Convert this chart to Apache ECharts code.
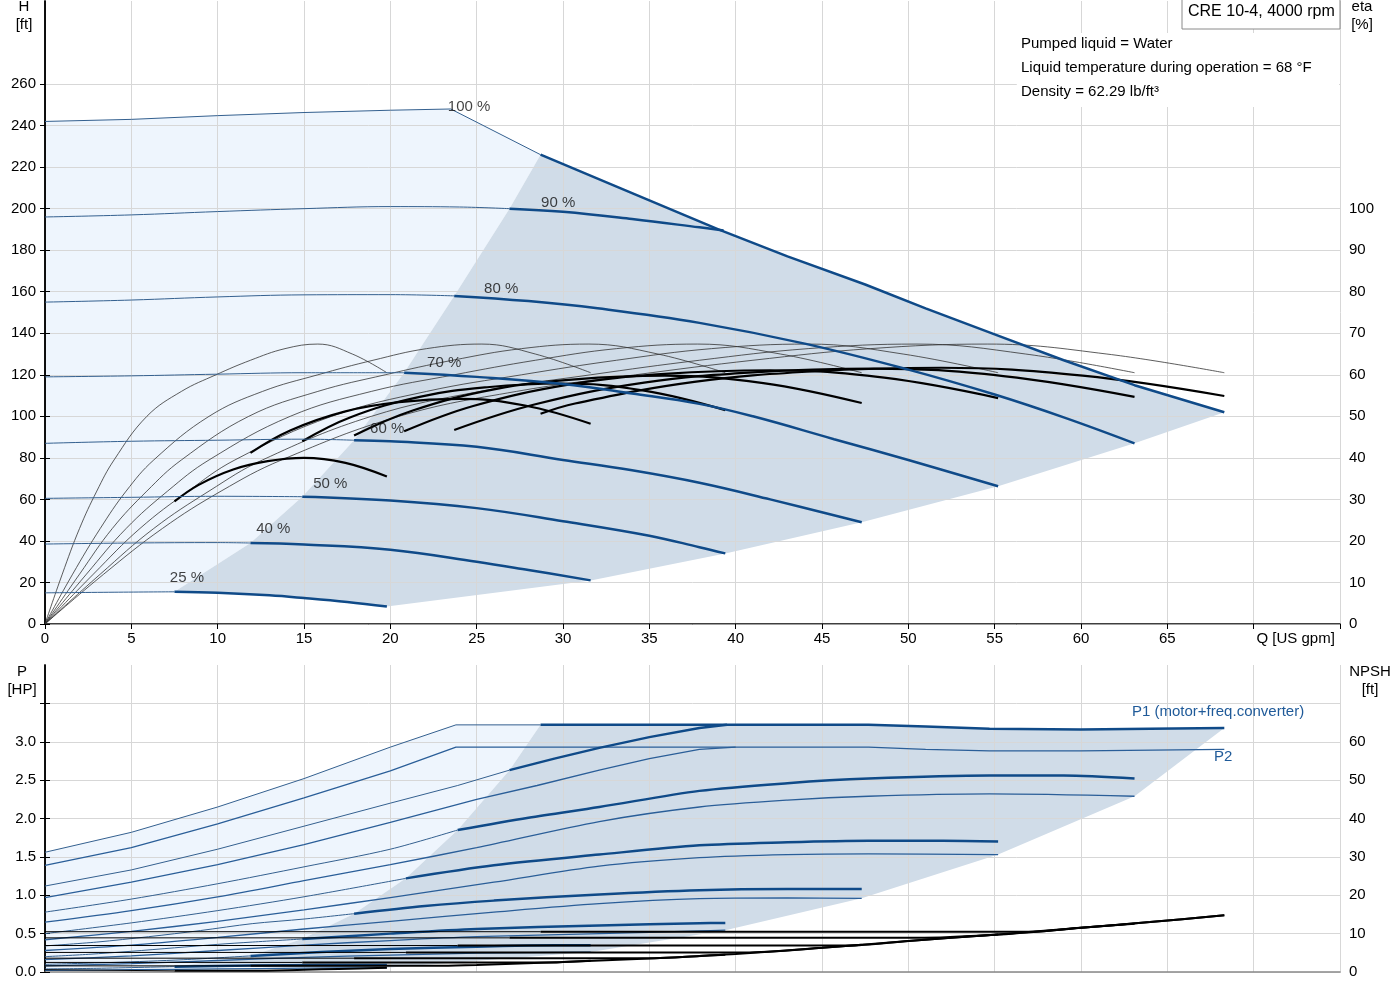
<!DOCTYPE html>
<html>
<head>
<meta charset="utf-8">
<title>CRE 10-4</title>
<script src="https://cdn.jsdelivr.net/npm/echarts/dist/echarts.min.js"></script>
<style>
  html, body { margin: 0; padding: 0; background: #fff; }
  #main { width: 1400px; height: 1000px; }
</style>
</head>
<body>
<div id="main"></div>
<script>
// ---- H [ft] vs Q [US gpm], one curve per speed (100,90,80,70,60,50,40,25 %)
var speedNames = ['100 %', '90 %', '80 %', '70 %', '60 %', '50 %', '40 %', '25 %'];
var hCurve100 = [[0,242],[5,243],[10,244.8],[15,246.3],[20,247.4],[23.5,248],[28.7,226],[33,211],[39,190],[43,177],[47.5,163.5],[51,152],[55,139.5],[59,127],[63.1,115],[68.3,102]];
var hCurve90 = [[0,196],[5,197],[10,198.6],[15,200],[20,201],[24,200.8],[26.9,200],[30,198.5],[34,195],[37.9,191],[39.3,189.5]];
var hCurve80 = [[0,155],[5,156],[10,157.5],[15,158.5],[20,158.6],[23.7,158],[28,155.5],[32,152],[37.9,145],[44,135],[50,122.5],[55,110.5],[59,99.5],[63.1,87]];
var hCurve70 = [[0,119],[5,119.5],[10,120.3],[15,121],[20.8,121],[25,119],[30,115.6],[34,111],[37.9,106],[41,100],[45.7,89],[50,79],[55.2,66.3]];
var hCurve60 = [[0,87],[5,88],[10,88.5],[15,89],[17.9,88.5],[20,88],[25,85.3],[30,79],[34,74],[37.9,68],[42,60],[47.3,49]];
var hCurve50 = [[0,60.5],[5,61],[10,61.5],[14.9,61.3],[20,59.5],[25,55.8],[30,49.5],[35,42.5],[37.9,37],[39.4,34]];
var hCurve40 = [[0,38.5],[5,39],[10,39.2],[11.9,39],[15,38.3],[20,35.8],[25,30],[28,26],[31.6,21]];
var hCurve25 = [[0,15],[4,15.3],[7.5,15.5],[10,15],[13,13.8],[15,12.5],[17.5,10.6],[19.8,8.4]];
// flow where each curve enters the operating (dark) area
var hSplitQ = [28.7, 26.9, 23.7, 20.8, 17.9, 14.9, 11.9, 7.5];
// label anchors for the speed texts [Q, H]
var speedLabelQ = [23.3, 28.7, 25.4, 22.1, 18.8, 15.5, 12.2, 7.2];
var speedLabelH = [249, 203, 161.6, 125.7, 94, 67.6, 45.6, 22];

// ---- eta [%]: pump (thin) and total (thick), speeds 100,80,70,60,50,40,25
var etaPump100 = [[0,0],[3.4,12],[6.8,23],[10.2,32],[13.7,39.5],[20.5,50],[27.3,56],[34.2,60],[41,63.5],[47.8,66.3],[54.6,67.4],[61.5,65],[68.3,60.5]];
var etaPump80 = [[0,0],[3.2,12],[6.3,23],[9.5,32],[12.6,39.5],[18.9,50],[25.2,56],[31.6,60],[37.9,63.5],[44.2,66.3],[50.5,67.4],[56.8,65],[63.1,60.5]];
var etaPump70 = [[0,0],[2.8,12],[5.5,23],[8.3,32],[11,39.5],[16.6,50],[22.1,56],[27.6,60],[33.1,63.5],[38.6,66.3],[44.2,67.4],[49.7,65],[55.2,60.5]];
var etaPump60 = [[0,0],[2.4,12],[4.7,23],[7.1,32],[9.5,39.5],[14.2,50],[18.9,56],[23.7,60],[28.4,63.5],[33.1,66.3],[37.8,67.4],[42.6,65],[47.3,60.5]];
var etaPump50 = [[0,0],[2,12],[3.9,23],[5.9,32],[7.9,39.5],[11.8,50],[15.8,56],[19.7,60],[23.6,63.5],[27.6,66.3],[31.5,67.4],[35.5,65],[39.4,60.5]];
var etaPump40 = [[0,0],[1.6,12],[3.2,23],[4.7,32],[6.3,39.5],[9.5,50],[12.6,56],[15.8,60],[19,63.5],[22.1,66.3],[25.3,67.4],[28.4,65],[31.6,60.5]];
var etaPump25 = [[0,0],[1,12],[2,23],[3,32],[4,39.5],[5.9,50],[7.9,56],[9.9,60],[11.9,63.5],[13.9,66.3],[15.8,67.4],[17.8,65],[19.8,60.5]];
var etaTotal100 = [[28.7,50.6],[30.7,53.1],[37.6,58.3],[44.4,60.8],[51.9,61.7],[60.1,59.8],[68.3,54.9]];
var etaTotal80 = [[23.7,46.7],[28.4,52.9],[34.7,58.1],[41,60.6],[48,61.5],[55.5,59.7],[63.1,54.7]];
var etaTotal70 = [[20.8,46.4],[24.8,52.5],[30.4,57.7],[35.9,60.2],[42,61.1],[48.6,59.3],[55.2,54.4]];
var etaTotal60 = [[17.9,45.4],[21.3,51.4],[26,56.5],[30.7,58.9],[35.9,59.8],[41.6,58],[47.3,53.2]];
var etaTotal50 = [[14.9,44],[17.7,49.8],[21.7,54.7],[25.6,57],[29.9,57.9],[34.7,56.2],[39.4,51.5]];
var etaTotal40 = [[11.9,41.2],[14.2,46.6],[17.4,51.2],[20.5,53.4],[24,54.2],[27.8,52.6],[31.6,48.2]];
var etaTotal25 = [[7.5,29.5],[8.9,33.5],[10.9,37.2],[12.9,39.2],[15,40],[17.4,38.8],[19.8,35.5]];

// ---- P [HP]: P1 (motor+freq.converter) and P2, speeds 100..25
var p1Curve100 = [[0,1.56],[5,1.82],[10,2.15],[15,2.52],[20,2.93],[23.8,3.22],[28.7,3.22],[35,3.22],[40,3.22],[47.7,3.22],[51,3.2],[54.7,3.17],[60,3.16],[64,3.17],[68.3,3.18]];
var p1Curve90 = [[0,1.12],[5,1.33],[10,1.6],[15,1.9],[20,2.2],[23.9,2.43],[26.9,2.63],[29.5,2.78],[32.1,2.92],[35,3.06],[37.9,3.18],[39.5,3.22]];
var p1Curve80 = [[0,0.78],[5,0.95],[10,1.15],[15,1.37],[20,1.6],[23.9,1.85],[28,2.01],[32.1,2.15],[37.9,2.36],[43,2.46],[47.7,2.52],[54.7,2.56],[59,2.56],[63.1,2.52]];
var p1Curve70 = [[0,0.5],[5,0.64],[10,0.8],[15,0.98],[20.9,1.22],[26,1.39],[32.1,1.53],[37.9,1.65],[43,1.69],[47.7,1.71],[52,1.71],[55.2,1.7]];
var p1Curve60 = [[0,0.34],[3,0.39],[6,0.46],[9,0.54],[12,0.63],[15,0.69],[17.9,0.76],[22,0.86],[26,0.93],[32.1,1.01],[37.9,1.065],[43,1.08],[47.3,1.08]];
var p1Curve50 = [[0,0.2],[2.5,0.23],[5,0.27],[7.5,0.315],[10,0.36],[12,0.39],[14.9,0.43],[20,0.5],[25,0.56],[32.1,0.605],[37.9,0.635],[39.4,0.64]];
var p1Curve40 = [[0,0.1],[4,0.125],[8,0.16],[11.9,0.21],[16,0.26],[20,0.3],[25,0.33],[28,0.345],[31.6,0.35]];
var p1Curve25 = [[0,0.04],[3,0.048],[7.5,0.07],[12,0.085],[16,0.09],[19.8,0.09]];
var p2Curve100 = [[0,1.39],[5,1.62],[10,1.93],[15,2.27],[20,2.62],[23.8,2.93],[40,2.93],[47.7,2.93],[51,2.9],[54.7,2.88],[60,2.88],[68.3,2.9]];
var p2Curve90 = [[0,0.97],[5,1.17],[10,1.4],[15,1.66],[20,1.95],[25,2.25],[28.5,2.43],[32.1,2.63],[35,2.78],[37.9,2.9],[40,2.93]];
var p2Curve80 = [[0,0.65],[5,0.8],[10,0.98],[15,1.19],[20,1.4],[25,1.62],[32.1,1.96],[37.9,2.15],[43,2.24],[47.7,2.29],[54.7,2.32],[63.1,2.29]];
var p2Curve70 = [[0,0.42],[5,0.53],[10,0.66],[15,0.81],[20,0.97],[26,1.17],[32.1,1.38],[37.9,1.49],[43,1.53],[47.7,1.54],[55.2,1.53]];
var p2Curve60 = [[0,0.28],[5,0.35],[10,0.45],[15,0.56],[20,0.66],[26,0.78],[32.1,0.89],[37.9,0.955],[43,0.965],[47.3,0.96]];
var p2Curve50 = [[0,0.16],[5,0.21],[10,0.28],[15,0.35],[20,0.41],[25,0.46],[32.1,0.5],[37.9,0.535],[39.4,0.545]];
var p2Curve40 = [[0,0.08],[5,0.11],[10,0.15],[15,0.19],[20,0.22],[25,0.245],[31.6,0.26]];
var p2Curve25 = [[0,0.02],[5,0.03],[10,0.04],[15,0.05],[19.8,0.055]];
var pSplitQ = [28.7, 26.9, 23.9, 20.9, 17.9, 14.9, 11.9, 7.5];

// ---- NPSH [ft], speeds 100..25
var npsh100 = [[0,10.5],[28.7,10.5],[40,10.5],[50,10.5],[57,10.5],[60,11.5],[64,13],[68.3,14.8]];
var npsh90 = [[0,8.9],[26.9,8.9],[40,8.9],[50.5,8.9],[55,9.7],[60,11.5],[64,13],[68.3,14.8]];
var npsh80 = [[0,6.9],[23.9,6.9],[35,6.9],[46.5,6.9],[50,8.1],[55,9.7],[60,11.5],[63.1,12.6]];
var npsh70 = [[0,5.1],[20.9,5.1],[30,5.1],[40.5,5.1],[45,6.3],[50,8.1],[55.2,9.8]];
var npsh60 = [[0,3.6],[17.9,3.6],[30,3.6],[35.3,3.6],[37.9,4.2],[40,4.7],[45,6.3],[47.3,7.1]];
var npsh50 = [[0,2.5],[14.9,2.5],[29.5,2.5],[30,2.6],[35,3.5],[39.4,4.5]];
var npsh40 = [[0,1.6],[11.9,1.6],[23,1.6],[25,1.8],[30,2.6],[31.6,2.9]];
var npsh25 = [[0,0.6],[7.5,0.3],[12,0.3],[15,0.6],[17,0.8],[19.8,1.1]];

// tick values shown on each vertical axis
var hTicks = [0,20,40,60,80,100,120,140,160,180,200,220,240,260];
var etaTicks = [0,10,20,30,40,50,60,70,80,90,100];
var pTicks = [0,0.5,1,1.5,2,2.5,3,3.5];
var npshTicks = [0,10,20,30,40,50,60,70];

var hCurves = [hCurve100, hCurve90, hCurve80, hCurve70, hCurve60, hCurve50, hCurve40, hCurve25];
var etaPumpCurves = [etaPump100, etaPump80, etaPump70, etaPump60, etaPump50, etaPump40, etaPump25];
var etaTotalCurves = [etaTotal100, etaTotal80, etaTotal70, etaTotal60, etaTotal50, etaTotal40, etaTotal25];
var p1Curves = [p1Curve100, p1Curve90, p1Curve80, p1Curve70, p1Curve60, p1Curve50, p1Curve40, p1Curve25];
var p2Curves = [p2Curve100, p2Curve90, p2Curve80, p2Curve70, p2Curve60, p2Curve50, p2Curve40, p2Curve25];
var npshCurves = [npsh100, npsh90, npsh80, npsh70, npsh60, npsh50, npsh40, npsh25];

var FONT = "'Liberation Sans', Arial, sans-serif";
var thinBlue = '#34608f', thickBlue = '#0f4a88', p2Blue = '#2a5e98';
var gridColor = '#d7d7d7';

function last(c) { return c[c.length - 1]; }
function upTo(c, q) { return c.filter(function (p) { return p[0] <= q; }); }
function from(c, q) { return c.filter(function (p) { return p[0] >= q; }); }
function at(c, q) { return c.filter(function (p) { return p[0] === q; })[0]; }

// operating areas, built from the curves above
var hMinFlow = hCurves.map(function (c, i) { return at(c, hSplitQ[i]); }).reverse();
var hMaxFlow = [hCurve25, hCurve40, hCurve50, hCurve60, hCurve70, hCurve80].map(last);
var hLight = [[0, hCurve25[0][1]]].concat(upTo(hCurve100, hSplitQ[0]), hMinFlow.slice().reverse(),
    hCurve25.filter(function (p) { return p[0] < hSplitQ[7]; }).reverse());
var hDark = hMinFlow.concat(from(hCurve100, hSplitQ[0]).slice(1), hMaxFlow.slice().reverse(),
    hCurve25.filter(function (p) { return p[0] > hSplitQ[7]; }).reverse());

var pMinFlow = p1Curves.map(function (c, i) { return at(c, pSplitQ[i]); }).reverse();
var pMaxFlow = [p2Curve25, p2Curve40, p2Curve50, p2Curve60, p2Curve70, p2Curve80].map(last);
var pLight = [[0, p1Curve25[0][1]]].concat(upTo(p1Curve100, pSplitQ[0]), pMinFlow.slice().reverse(),
    p1Curve25.filter(function (p) { return p[0] < pSplitQ[7]; }).reverse());
var pDark = pMinFlow.concat(from(p1Curve100, pSplitQ[0]).slice(1), pMaxFlow.slice().reverse());

var series = [];

function area(pts, xi, yi, fill) {
    series.push({
        type: 'custom', xAxisIndex: xi, yAxisIndex: yi, z: -1, silent: true,
        data: pts, encode: { x: 0, y: 1 },
        renderItem: function (params, api) {
            if (params.dataIndex > 0) return;
            return {
                type: 'polygon',
                shape: { points: pts.map(function (p) { return api.coord(p); }) },
                style: { fill: fill }
            };
        }
    });
}

function line(data, xi, yi, color, width, smooth) {
    series.push({
        type: 'line', xAxisIndex: xi, yAxisIndex: yi, data: data,
        symbol: 'none', smooth: smooth, silent: true, z: 3,
        lineStyle: { color: color, width: width }
    });
}

area(hLight, 0, 0, '#eef5fd');
area(hDark, 0, 0, '#d0dce8');
area(pLight, 2, 2, '#eef5fd');
area(pDark, 2, 2, '#d0dce8');

// eta curves
etaPumpCurves.forEach(function (c) { line(c, 0, 1, '#333', 0.8, 0.4); });
etaTotalCurves.forEach(function (c) { line(c, 0, 1, '#000', 2.2, 0.4); });

// H curves, thin outside / thick inside the operating area
hCurves.forEach(function (c, i) {
    var sm = i === 0 ? false : 0.4;
    line(upTo(c, hSplitQ[i]), 0, 0, thinBlue, 1, sm);
    line(from(c, hSplitQ[i]), 0, 0, thickBlue, 2.5, sm);
});

// speed labels
series.push({
    type: 'scatter', xAxisIndex: 0, yAxisIndex: 0, silent: true, z: 5,
    symbolSize: 1, itemStyle: { color: 'rgba(0,0,0,0)' },
    data: speedNames.map(function (n, i) { return { value: [speedLabelQ[i], speedLabelH[i]], name: n }; }),
    label: {
        show: true, position: 'right', distance: 0,
        formatter: '{b}', color: '#111', fontSize: 15, fontFamily: FONT
    }
});

// power and NPSH (the two top speeds have a sharp power-limit corner)
p2Curves.forEach(function (c, i) { line(c, 2, 2, p2Blue, 1.3, i < 2 ? false : 0.3); });
p1Curves.forEach(function (c, i) {
    var sm = i < 2 ? false : 0.3;
    line(upTo(c, pSplitQ[i]), 2, 2, thinBlue, 1, sm);
    line(from(c, pSplitQ[i]), 2, 2, thickBlue, 2.5, sm);
});
npshCurves.forEach(function (c, i) {
    line(upTo(c, pSplitQ[i]), 2, 3, '#000', 1, false);
    line(from(c, pSplitQ[i]), 2, 3, '#000', 2, 0.3);
});

function valAxis(grid, pos, max, step, ticks, fmt, split) {
    return {
        type: 'value', gridIndex: grid, position: pos, min: 0, max: max, interval: step,
        axisLine: { show: true, lineStyle: { color: '#000', width: 1.5 } },
        axisTick: { show: true, length: 5, customValues: ticks, lineStyle: { color: '#000' } },
        axisLabel: {
            show: true, margin: 9, color: '#000', fontSize: 15, fontFamily: FONT,
            formatter: fmt
        },
        splitLine: { show: split, lineStyle: { color: gridColor, width: 1 } }
    };
}

var myChart = echarts.init(document.getElementById('main'));
var option = {
    animation: false,
    backgroundColor: '#fff',
    grid: [
        { left: 45, right: 60, top: 1, height: 623 },
        { left: 45, right: 60, top: 665, height: 307 }
    ],
    xAxis: [
        {
            type: 'value', gridIndex: 0, position: 'bottom', min: 0, max: 75, interval: 5,
            axisLine: { show: true, lineStyle: { color: '#000', width: 1.5 } },
            axisTick: { show: true, length: 5, lineStyle: { color: '#000' } },
            axisLabel: {
                show: true, interval: 0, margin: 7, color: '#000', fontSize: 15, fontFamily: FONT,
                formatter: function (v) {
                    if (v <= 65) return String(v);
                    if (v === 70) return '{q|Q [US gpm]}';
                    return '';
                },
                rich: { q: { padding: [0, 0, 0, 84], color: '#000', fontSize: 15, fontFamily: FONT } }
            },
            splitLine: { show: true, lineStyle: { color: gridColor, width: 1 } }
        },
        {
            type: 'value', gridIndex: 0, position: 'top', min: 0, max: 75,
            axisLine: { show: true, lineStyle: { color: '#a0a0a0', width: 1 } },
            axisTick: { show: false }, axisLabel: { show: false }, splitLine: { show: false }
        },
        {
            type: 'value', gridIndex: 1, position: 'bottom', min: 0, max: 75, interval: 5,
            axisLine: { show: true, lineStyle: { color: '#888', width: 1.5 } },
            axisTick: { show: false }, axisLabel: { show: false },
            splitLine: { show: true, lineStyle: { color: gridColor, width: 1 } }
        },
        {
            type: 'value', gridIndex: 1, position: 'top', min: 0, max: 75,
            axisLine: { show: true, lineStyle: { color: '#a0a0a0', width: 1 } },
            axisTick: { show: false }, axisLabel: { show: false }, splitLine: { show: false }
        }
    ],
    yAxis: [
        valAxis(0, 'left', 300, 20, hTicks, function (v) { return v <= 260 ? String(v) : ''; }, true),
        valAxis(0, 'right', 150, 10, etaTicks, function (v) { return v <= 100 ? String(v) : ''; }, false),
        valAxis(1, 'left', 4, 0.5, pTicks, function (v) { return v <= 3 ? v.toFixed(1) : ''; }, true),
        valAxis(1, 'right', 80, 10, npshTicks, function (v) { return v <= 60 ? String(v) : ''; }, false)
    ],
    graphic: {
        elements: [
            { type: 'rect', z: 100, shape: { x: 1017, y: 33, width: 322, height: 74 }, style: { fill: '#fff' } },
            { type: 'rect', z: 100, shape: { x: 1182, y: -1, width: 158, height: 30 }, style: { fill: '#fff', stroke: '#8a8a8a', lineWidth: 1 } },
            { type: 'text', z: 101, x: 1188, y: 12, style: { text: 'CRE 10-4, 4000 rpm', fill: '#000', font: '16px ' + FONT, verticalAlign: 'middle' } },
            { type: 'text', z: 101, x: 1021, y: 44, style: { text: 'Pumped liquid = Water', fill: '#000', font: '15px ' + FONT, verticalAlign: 'middle' } },
            { type: 'text', z: 101, x: 1021, y: 68, style: { text: 'Liquid temperature during operation = 68 °F', fill: '#000', font: '15px ' + FONT, verticalAlign: 'middle' } },
            { type: 'text', z: 101, x: 1021, y: 92, style: { text: 'Density = 62.29 lb/ft³', fill: '#000', font: '15px ' + FONT, verticalAlign: 'middle' } },
            { type: 'text', z: 101, x: 24, y: 7, style: { text: 'H', fill: '#000', font: '15px ' + FONT, align: 'center', verticalAlign: 'middle' } },
            { type: 'text', z: 101, x: 24, y: 25, style: { text: '[ft]', fill: '#000', font: '15px ' + FONT, align: 'center', verticalAlign: 'middle' } },
            { type: 'text', z: 101, x: 1362, y: 7, style: { text: 'eta', fill: '#000', font: '15px ' + FONT, align: 'center', verticalAlign: 'middle' } },
            { type: 'text', z: 101, x: 1362, y: 25, style: { text: '[%]', fill: '#000', font: '15px ' + FONT, align: 'center', verticalAlign: 'middle' } },
            { type: 'text', z: 101, x: 22, y: 672, style: { text: 'P', fill: '#000', font: '15px ' + FONT, align: 'center', verticalAlign: 'middle' } },
            { type: 'text', z: 101, x: 22, y: 690, style: { text: '[HP]', fill: '#000', font: '15px ' + FONT, align: 'center', verticalAlign: 'middle' } },
            { type: 'text', z: 101, x: 1370, y: 672, style: { text: 'NPSH', fill: '#000', font: '15px ' + FONT, align: 'center', verticalAlign: 'middle' } },
            { type: 'text', z: 101, x: 1370, y: 690, style: { text: '[ft]', fill: '#000', font: '15px ' + FONT, align: 'center', verticalAlign: 'middle' } },
            { type: 'text', z: 101, x: 1132, y: 712, style: { text: 'P1 (motor+freq.converter)', fill: '#1f5a99', font: '15px ' + FONT, verticalAlign: 'middle' } },
            { type: 'text', z: 101, x: 1214, y: 757, style: { text: 'P2', fill: '#1f5a99', font: '15px ' + FONT, verticalAlign: 'middle' } }
        ]
    },
    series: series
};
myChart.setOption(option);
</script>
</body>
</html>
